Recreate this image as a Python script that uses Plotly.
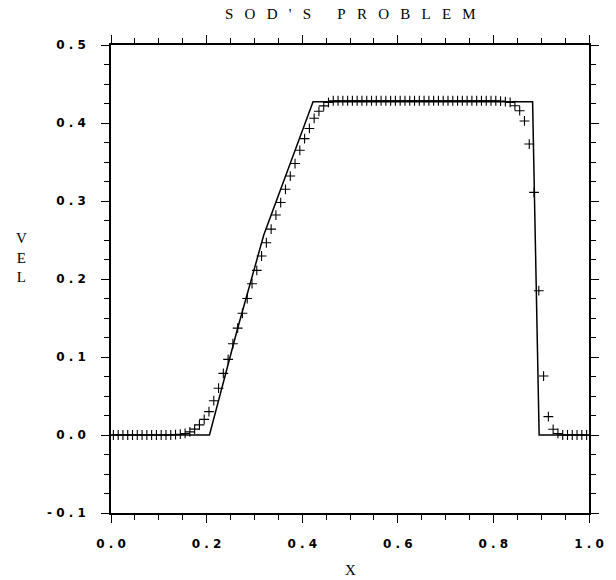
import plotly.graph_objects as go

# numerical solution: cell centres and velocity
x_num = [0.005, 0.015, 0.025, 0.035, 0.045, 0.055, 0.065, 0.075, 0.085, 0.095,
         0.105, 0.115, 0.125, 0.135, 0.145, 0.155, 0.165, 0.175, 0.185, 0.195,
         0.205, 0.215, 0.225, 0.235, 0.245, 0.255, 0.265, 0.275, 0.285, 0.295,
         0.305, 0.315, 0.325, 0.335, 0.345, 0.355, 0.365, 0.375, 0.385, 0.395,
         0.405, 0.415, 0.425, 0.435, 0.445, 0.455, 0.465, 0.475, 0.485, 0.495,
         0.505, 0.515, 0.525, 0.535, 0.545, 0.555, 0.565, 0.575, 0.585, 0.595,
         0.605, 0.615, 0.625, 0.635, 0.645, 0.655, 0.665, 0.675, 0.685, 0.695,
         0.705, 0.715, 0.725, 0.735, 0.745, 0.755, 0.765, 0.775, 0.785, 0.795,
         0.805, 0.815, 0.825, 0.835, 0.845, 0.855, 0.865, 0.875, 0.885, 0.895,
         0.905, 0.915, 0.925, 0.935, 0.945, 0.955, 0.965, 0.975, 0.985, 0.995]
v_num = [0.0, 0.0, 0.0, 0.0, 0.0, 0.0, 0.0, 0.0, 0.0, 0.0,
         0.0, 0.0, 0.0, 0.0004, 0.001, 0.002, 0.004, 0.0075, 0.013, 0.020,
         0.030, 0.044, 0.060, 0.079, 0.097, 0.117, 0.137, 0.156, 0.175, 0.194,
         0.211, 0.2295, 0.2465, 0.264, 0.282, 0.298, 0.315, 0.332, 0.348, 0.365,
         0.380, 0.393, 0.406, 0.415, 0.422, 0.4265, 0.4285, 0.4285, 0.4285, 0.4285,
         0.4285, 0.4285, 0.4285, 0.4285, 0.4285, 0.4285, 0.4285, 0.4285, 0.4285, 0.4285,
         0.4285, 0.4285, 0.4285, 0.4285, 0.4285, 0.4285, 0.4285, 0.4285, 0.4285, 0.4285,
         0.4285, 0.4285, 0.4285, 0.4285, 0.4285, 0.4285, 0.4285, 0.4285, 0.4285, 0.4285,
         0.4285, 0.428, 0.4275, 0.4265, 0.4222, 0.4158, 0.4026, 0.373, 0.311, 0.185,
         0.0756, 0.0235, 0.0073, 0.002, 0.0, 0.0, 0.0, 0.0, 0.0, 0.0]

# exact solution polyline
x_exact = [0.0, 0.206, 0.264, 0.3196, 0.4227, 0.882, 0.8957, 1.0]
v_exact = [0.0, 0.0, 0.1346, 0.2564, 0.4273, 0.4273, 0.0, 0.0]

x_ticks = [0.0, 0.2, 0.4, 0.6, 0.8, 1.0]
x_tick_text = ["0 . 0", "0 . 2", "0 . 4", "0 . 6", "0 . 8", "1 . 0"]
y_ticks = [-0.1, 0.0, 0.1, 0.2, 0.3, 0.4, 0.5]
y_tick_text = ["- 0 . 1", "0 . 0", "0 . 1", "0 . 2", "0 . 3", "0 . 4", "0 . 5"]

title_text = "SOD'S PROBLEM"
x_title = "X"
y_title = "VEL"

NB = "\u00a0"


def spaced(s, gap=3, word_gap=7):
    out = []
    for i, ch in enumerate(s):
        if ch == " ":
            continue
        out.append(ch)
        if i < len(s) - 1:
            nxt = s[i + 1]
            out.append(NB * (word_gap if nxt == " " else gap))
    return "".join(out)


tick_font = dict(family="DejaVu Sans", size=12, color="black", weight="bold")
serif = dict(family="Liberation Serif", size=15, color="black")

fig = go.Figure()
fig.add_trace(go.Scatter(x=x_exact, y=v_exact, mode="lines",
                         line=dict(color="black", width=1.5), showlegend=False))
fig.add_trace(go.Scatter(x=x_num, y=v_num, mode="markers",
                         marker=dict(symbol="cross-thin", size=7, color="black",
                                     line=dict(color="black", width=1.1)),
                         showlegend=False))

axis_common = dict(showgrid=False, zeroline=False, showline=True, linecolor="black",
                   linewidth=1.5, mirror="allticks", ticks="outside", tickcolor="black",
                   tickwidth=1.2, ticklen=8, tickfont=tick_font)

fig.update_xaxes(range=[0, 1], tickmode="array", tickvals=x_ticks, ticktext=x_tick_text,
                 ticklabelstandoff=11,
                 minor=dict(dtick=0.05, ticks="outside", ticklen=5, tickcolor="black",
                            tickwidth=1.2, showgrid=False),
                 **axis_common)
fig.update_yaxes(range=[-0.1, 0.5], tickmode="array", tickvals=y_ticks, ticktext=y_tick_text,
                 ticklabelstandoff=13,
                 minor=dict(dtick=0.025, ticks="outside", ticklen=5, tickcolor="black",
                            tickwidth=1.2, showgrid=False),
                 **axis_common)

fig.update_layout(
    width=616, height=580,
    margin=dict(l=111, r=16, t=45, b=67),
    paper_bgcolor="white", plot_bgcolor="white",
    annotations=[
        dict(text=spaced(title_text), xref="paper", yref="paper", x=0.5, y=1,
             yshift=31, xanchor="center", yanchor="middle", showarrow=False, font=serif),
        dict(text=x_title, xref="paper", yref="paper", x=0.5, y=0, yshift=-57,
             xanchor="center", yanchor="middle", showarrow=False, font=serif),
        dict(text="<br>".join(list(y_title)), xref="paper", yref="paper", x=0, xshift=-90,
             y=0.5, yshift=22, xanchor="center", yanchor="middle", showarrow=False,
             font=serif),
    ],
)

fig.write_html("out.html")
